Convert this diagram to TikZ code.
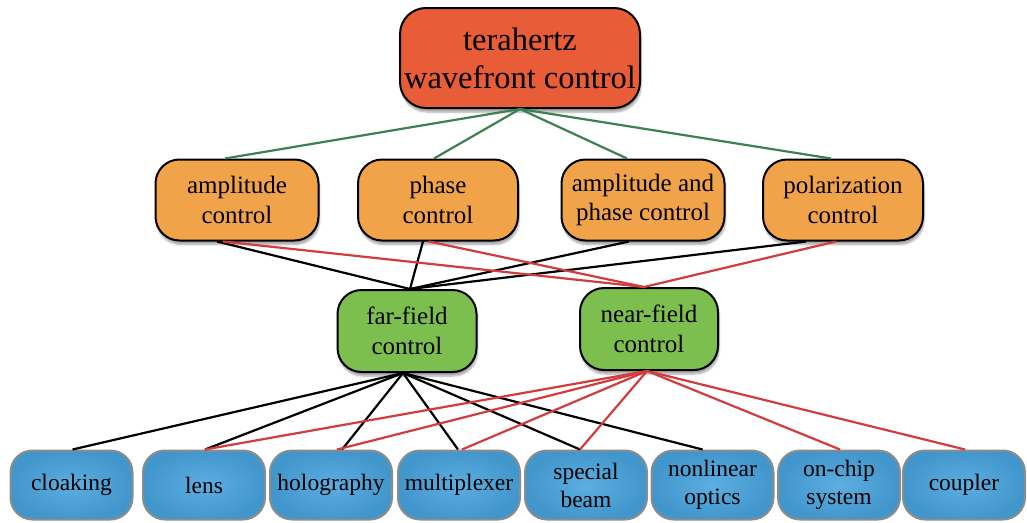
\documentclass[tikz,border=0pt]{standalone}
\usepackage{fontspec}
\setmainfont{Liberation Serif}
\newfontfamily\diagfont{Liberation Serif}
\usetikzlibrary{shadows.blur}
\definecolor{topfill}{HTML}{E85D37}
\definecolor{midfill}{HTML}{F1A34A}
\definecolor{greenfill}{HTML}{7DBF4E}
\definecolor{bluefill}{HTML}{47A3DD}
\definecolor{blueedge}{HTML}{8C8C8C}
\definecolor{gline}{HTML}{3E8051}
\definecolor{rline}{HTML}{D23C3C}
\tikzset{
  shad/.style={blur shadow={shadow blur steps=6, shadow xshift=1pt, shadow yshift=-4pt, shadow opacity=35}},
  topbox/.style={draw=black, line width=2pt, fill=topfill, rounded corners=26pt, align=center,
    minimum width=240pt, minimum height=100pt, inner sep=0pt, font=\diagfont\fontsize{32.5}{38}\selectfont, shad},
  midbox/.style={draw=black, line width=2pt, fill=midfill, rounded corners=24pt, align=center,
    minimum height=81pt, inner sep=0pt, font=\diagfont\fontsize{25}{29.5}\selectfont, shad},
  fieldbox/.style={draw=black, line width=2pt, fill=greenfill, rounded corners=24pt, align=center,
    minimum width=139pt, minimum height=82pt, inner sep=0pt, font=\diagfont\fontsize{25}{30}\selectfont, shad},
  appbox/.style={draw=blueedge, line width=2pt, inner color=bluefill!88!white, outer color=bluefill!92!black,
    rounded corners=22pt, align=center,
    minimum width=122pt, minimum height=69pt, inner sep=0pt, font=\diagfont\fontsize{23.5}{28}\selectfont},
  gl/.style={draw=gline, line width=2.2pt},
  rl/.style={draw=rline, line width=2.2pt},
  bl/.style={draw=black, line width=2.2pt},
}
\begin{document}
\begin{tikzpicture}[x=1pt, y=-1pt]
\useasboundingbox (0,0) rectangle (1027,522);
% nodes
\node[topbox] (top) at (520,58) {terahertz\\wavefront control};
\node[midbox, minimum width=163pt] (amp) at (237,200) {amplitude\\control};
\node[midbox, minimum width=160pt] (pha) at (438,200) {phase\\control};
\node[midbox, minimum width=163pt] (ap) at (643,200) {amplitude and\\phase control};
\node[midbox, minimum width=160pt] (pol) at (843,200) {polarization\\control};
\node[fieldbox] (far) at (407,331) {far-field\\control};
\node[fieldbox, minimum width=138pt] (near) at (649,329) {near-field\\control};
\node[appbox] (clo) at (71.5,485) {cloaking};
\node[appbox] (lens) at (204,485) {lens};
\node[appbox] (holo) at (331,485) {holography};
\node[appbox] (mux) at (459,485) {multiplexer};
\node[appbox] (beam) at (586,485) {special\\beam};
\node[appbox] (nlo) at (712.5,485) {nonlinear\\optics};
\node[appbox] (chip) at (839,485) {on-chip\\system};
\node[appbox] (coup) at (964,485) {coupler};
% top to mid
\draw[gl] (top.south) -- ([xshift=-12pt]amp.north);
\draw[gl] (top.south) -- ([xshift=-4pt]pha.north);
\draw[gl] (top.south) -- ([xshift=-16pt]ap.north);
\draw[gl] (top.south) -- ([xshift=-12pt]pol.north);
% mid to far
\draw[bl] ([xshift=-20pt]amp.south) -- ([xshift=3pt]far.north);
\draw[bl] ([xshift=-15pt]pha.south) -- ([xshift=3pt]far.north);
\draw[bl] ([xshift=-14pt]ap.south) -- ([xshift=3pt]far.north);
\draw[bl] ([xshift=-37pt]pol.south) -- ([xshift=3pt]far.north);
% mid to near
\draw[rl] ([xshift=-14pt]amp.south) -- ([xshift=-5pt]near.north);
\draw[rl] ([xshift=-9pt]pha.south) -- ([xshift=-5pt]near.north);
\draw[rl] ([xshift=-7pt]pol.south) -- ([xshift=-5pt]near.north);
% far to apps
\draw[bl] ([xshift=-4pt]far.south) -- ([xshift=1pt]clo.north);
\draw[bl] ([xshift=-4pt]far.south) -- ([xshift=1pt]lens.north);
\draw[bl] ([xshift=-4pt]far.south) -- ([xshift=11pt]holo.north);
\draw[bl] ([xshift=-4pt]far.south) -- ([xshift=-1pt]mux.north);
\draw[bl] ([xshift=-4pt]far.south) -- ([xshift=-6pt]beam.north);
\draw[bl] ([xshift=-4pt]far.south) -- ([xshift=-10pt]nlo.north);
% near to apps
\draw[rl] ([xshift=-2pt]near.south) -- ([xshift=1pt]lens.north);
\draw[rl] ([xshift=-2pt]near.south) -- ([xshift=6pt]holo.north);
\draw[rl] ([xshift=-2pt]near.south) -- ([xshift=3pt]mux.north);
\draw[rl] ([xshift=-2pt]near.south) -- ([xshift=-6pt]beam.north);
\draw[rl] ([xshift=-2pt]near.south) -- ([xshift=1pt]chip.north);
\draw[rl] ([xshift=-2pt]near.south) -- ([xshift=1pt]coup.north);
\end{tikzpicture}
\end{document}
